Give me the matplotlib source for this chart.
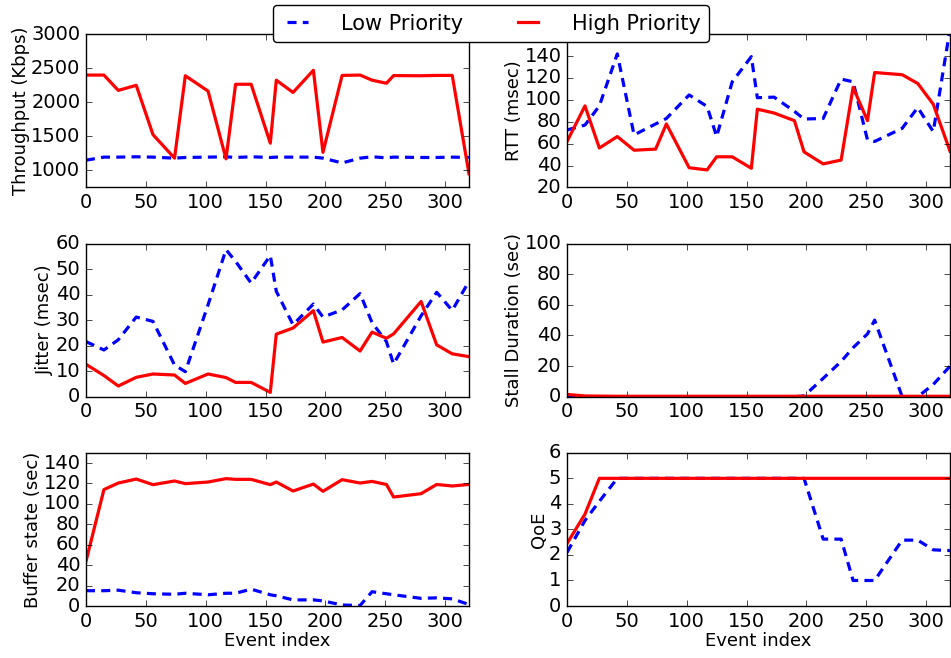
import numpy as np
import matplotlib
matplotlib.use('Agg')
import matplotlib.pyplot as plt

plt.style.use('classic')
plt.rcParams['figure.facecolor'] = 'white'
plt.rcParams['savefig.facecolor'] = 'white'
plt.rcParams['font.size'] = 13

# event index (x positions shared by every series)
event_idx = [0, 15, 27, 42, 56, 74, 83, 102, 117, 125, 138, 154, 159, 173,
             190, 198, 214, 229, 239, 251, 257, 280, 293, 306, 320]

thr_low = [1150, 1195, 1195, 1200, 1195, 1180, 1190, 1195, 1200, 1190, 1200, 1190, 1195,
           1195, 1195, 1180, 1110, 1180, 1200, 1185, 1195, 1190, 1190, 1195, 1190]
thr_high = [2400, 2400, 2175, 2250, 1525, 1180, 2390, 2165, 1170, 2265, 2265, 1400, 2325,
            2145, 2470, 1265, 2395, 2400, 2325, 2280, 2392, 2390, 2395, 2395, 950]

rtt_low = [72.5, 77, 94.5, 142, 68, 78, 83, 104.5, 94, 66.5, 116.5, 139.5, 102,
           102.5, 89.5, 82.5, 83, 119, 116.5, 63.5, 62, 74, 93, 71, 165]
rtt_high = [62, 94.5, 56, 66.5, 54, 55, 78, 38, 36, 48, 48, 37.5, 91.5,
            88, 81, 52.5, 41.5, 45, 111.5, 81, 125, 123, 115, 96, 53]

jit_low = [21.6, 18.3, 22.3, 31.2, 29.5, 12.4, 9.8, 36, 57.6, 53, 44.5, 55.3, 41.3,
           28.2, 36.3, 31.2, 34, 40.4, 29, 21.6, 12.8, 31.7, 40.9, 33.8, 45.2]
jit_high = [12.7, 8.3, 4.2, 7.6, 8.9, 8.5, 5.2, 8.9, 7.5, 5.6, 5.6, 1.7, 24.5,
            26.9, 33.7, 21.4, 23.2, 17.9, 25.3, 22.9, 24.6, 37.3, 20.3, 16.8, 15.7]

stall_low = [0, 0, 0, 0, 0, 0, 0, 0, 0, 0, 0, 0, 0,
             0, 0, 0.5, 12, 23, 32, 41, 50, 0, 0, 8, 20]
stall_high = [1.5, 0.5, 0.4, 0.3, 0.3, 0.3, 0.3, 0.3, 0.3, 0.3, 0.3, 0.3, 0.3,
              0.3, 0.3, 0.3, 0.3, 0.3, 0.3, 0.3, 0.3, 0.3, 0.3, 0.3, 0.3]

buf_low = [15, 15, 15.5, 13, 12, 11.5, 12.5, 11, 12.5, 12.5, 16.5, 11, 10,
           6, 6, 5, 1, 0.5, 14, 12, 11, 7.5, 8, 7, 1.5]
buf_high = [43.7, 114, 120.4, 124.3, 118.8, 122.4, 119.8, 121.4, 124.7, 124, 124, 118.8, 121.4,
            112.6, 119.4, 112.3, 123.7, 120.4, 122, 119, 106.7, 110, 119, 117.5, 119]

qoe_low = [2.1, 3.35, 4.1, 5, 5, 5, 5, 5, 5, 5, 5, 5, 5,
           5, 5, 5, 2.62, 2.62, 1, 1, 1, 2.58, 2.58, 2.2, 2.17]
qoe_high = [2.45, 3.6, 5, 5, 5, 5, 5, 5, 5, 5, 5, 5, 5,
            5, 5, 5, 5, 5, 5, 5, 5, 5, 5, 5, 5]

panels = [
    (thr_low, thr_high, 'Throughput (Kbps)', (750, 3000), [1000, 1500, 2000, 2500, 3000]),
    (rtt_low, rtt_high, 'RTT (msec)', (20, 160), [20, 40, 60, 80, 100, 120, 140, 160]),
    (jit_low, jit_high, 'Jitter (msec)', (0, 60), [0, 10, 20, 30, 40, 50, 60]),
    (stall_low, stall_high, 'Stall Duration (sec)', (0, 100), [0, 20, 40, 60, 80, 100]),
    (buf_low, buf_high, 'Buffer state (sec)', (0, 150), [0, 20, 40, 60, 80, 100, 120, 140]),
    (qoe_low, qoe_high, 'QoE', (0, 6), [0, 1, 2, 3, 4, 5, 6]),
]

fig, axes = plt.subplots(3, 2, figsize=(9.51, 6.58), dpi=100)
fig.subplots_adjust(left=0.0904, right=0.999, top=0.948, bottom=0.079,
                    wspace=0.256, hspace=0.366)

for i, (low, high, lab, ylim, yt) in enumerate(panels):
    ax = axes[i // 2, i % 2]
    l1, = ax.plot(event_idx, low, color='blue', lw=2.3, linestyle='--', dashes=(6.5, 4.5))
    l2, = ax.plot(event_idx, high, color='red', lw=2.3)
    ax.set_xlim(0, 320)
    ax.set_ylim(*ylim)
    ax.set_yticks(yt)
    ax.set_xticks([0, 50, 100, 150, 200, 250, 300])
    ax.set_ylabel(lab, fontsize=13, labelpad=1)
    ax.tick_params(labelsize=14)
    if i >= 4:
        ax.set_xlabel('Event index', fontsize=13, labelpad=1)

leg = fig.legend([l1, l2], ['Low Priority', 'High Priority'], loc='upper center',
                 bbox_to_anchor=(0.516, 0.992), ncol=2, fontsize=15, fancybox=True,
                 numpoints=2, handlelength=1.6, handletextpad=1.3, columnspacing=2.3,
                 borderpad=0.4, borderaxespad=0, framealpha=1)
leg.set_zorder(10)

fig.savefig('out.png', dpi=100)
